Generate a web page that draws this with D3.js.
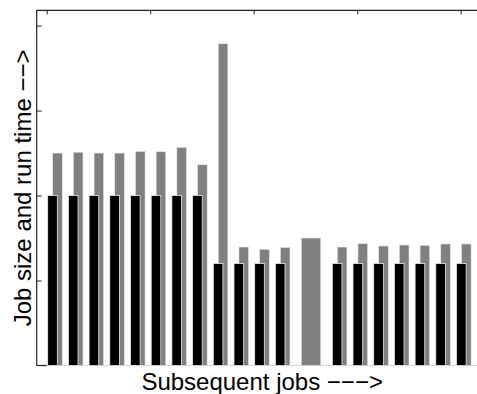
<!DOCTYPE html>
<html>
<head>
<meta charset="utf-8">
<script src="https://cdn.jsdelivr.net/npm/d3@7/dist/d3.min.js"></script>
<style>
  html, body { margin: 0; padding: 0; background: #fff; }
  svg { display: block; }
  text { font-family: "Liberation Sans", Arial, Helvetica, sans-serif; }
</style>
</head>
<body>
<svg id="chart" width="477" height="394"></svg>
<script>
// Position of each job along the sequence (in job units)
const jobSlot = [0.4, 1.4, 2.4, 3.4, 4.4, 5.4, 6.4, 7.4, 8.4, 9.4, 10.4, 11.4,
                 12.77,
                 14.15, 15.15, 16.15, 17.15, 18.15, 19.15, 20.15];
// Job size (null where the job has no size bar)
const jobSize = [2.0, 2.0, 2.0, 2.0, 2.0, 2.0, 2.0, 2.0, 1.2, 1.2, 1.2, 1.2,
                 null,
                 1.2, 1.2, 1.2, 1.2, 1.2, 1.2, 1.2];
// Run time of each job
const runTime = [2.50, 2.51, 2.50, 2.50, 2.52, 2.515, 2.567, 2.362, 3.786, 1.394, 1.367, 1.39,
                 1.5,
                 1.394, 1.433, 1.406, 1.418, 1.414, 1.43, 1.43];
// Jobs whose run-time bar spans the whole slot
const wideRun = [false, false, false, false, false, false, false, false, false, false, false, false,
                 true,
                 false, false, false, false, false, false, false];
const xTicks = [0, 5, 10, 15, 20];
const yTicks = [1, 2, 3, 4];
const xLabel = "Subsequent jobs \u2212\u2212\u2212>";
const yLabel = "Job size and run time \u2212\u2212>";

const svg = d3.select("#chart");
const plotLeft = 36.7, plotTop = 10.3, plotBottom = 365.5, plotRight = 487.6;

const x = d3.scaleLinear().domain([0, 20]).range([46.7, 460.7]);
const y = d3.scaleLinear().domain([0, 4.18]).range([plotBottom, plotTop]);
const unit = x(1) - x(0);
const barW = 0.465 * unit, shift = 0.12 * unit;

const jobs = jobSlot.map((s, i) => ({ s, size: jobSize[i], run: runTime[i], wide: wideRun[i] }));

// Baseline under the bars
svg.append("line")
  .attr("x1", x(0)).attr("x2", plotRight).attr("y1", plotBottom).attr("y2", plotBottom)
  .attr("stroke", "#d8d8d8").attr("stroke-width", 1);

// Run-time bars (grey), drawn first so size bars sit in front
svg.append("g").selectAll("rect").data(jobs).join("rect")
  .attr("x", d => d.wide ? x(d.s) - 0.94 * unit / 2 : x(d.s) + shift - barW / 2)
  .attr("width", d => d.wide ? 0.94 * unit : barW)
  .attr("y", d => y(d.run))
  .attr("height", d => y(0) - y(d.run))
  .attr("fill", "#808080")
  .attr("stroke", "#e6e6e6").attr("stroke-width", 0.6);

// Job-size bars (black)
svg.append("g").selectAll("rect").data(jobs.filter(d => d.size != null)).join("rect")
  .attr("x", d => x(d.s) - shift - barW / 2)
  .attr("width", barW)
  .attr("y", d => y(d.size))
  .attr("height", d => y(0) - y(d.size))
  .attr("fill", "#000")
  .attr("stroke", "#e8e8e8").attr("stroke-width", 0.8);

// Axes frame: left and top spines with inward ticks
const axisColor = "#222";
svg.append("line").attr("x1", plotLeft).attr("x2", plotLeft).attr("y1", plotTop).attr("y2", plotBottom)
  .attr("stroke", axisColor).attr("stroke-width", 1.2);
svg.append("line").attr("x1", plotLeft).attr("x2", plotRight).attr("y1", plotTop).attr("y2", plotTop)
  .attr("stroke", axisColor).attr("stroke-width", 1.2);
svg.append("line").attr("x1", plotLeft).attr("x2", x(0)).attr("y1", plotBottom).attr("y2", plotBottom)
  .attr("stroke", axisColor).attr("stroke-width", 1.2);

const yAxis = d3.axisRight(y).tickValues(yTicks).tickSize(5).tickFormat("");
svg.append("g").attr("transform", `translate(${plotLeft},0)`).call(yAxis)
  .call(g => g.select(".domain").remove())
  .selectAll("line").attr("stroke", axisColor);

const xAxis = d3.axisBottom(x).tickValues(xTicks).tickSize(4).tickFormat("");
svg.append("g").attr("transform", `translate(0,${plotTop})`).call(xAxis)
  .call(g => g.select(".domain").remove())
  .selectAll("line").attr("stroke", axisColor);

// Axis titles
svg.append("text")
  .attr("x", (plotLeft + plotRight) / 2).attr("y", 390)
  .attr("text-anchor", "middle").attr("font-size", 24).attr("fill", "#000")
  .text(xLabel);

svg.append("text")
  .attr("transform", `translate(31,${(plotTop + plotBottom) / 2}) rotate(-90)`)
  .attr("text-anchor", "middle").attr("font-size", 24).attr("fill", "#000")
  .text(yLabel);
</script>
</body>
</html>
